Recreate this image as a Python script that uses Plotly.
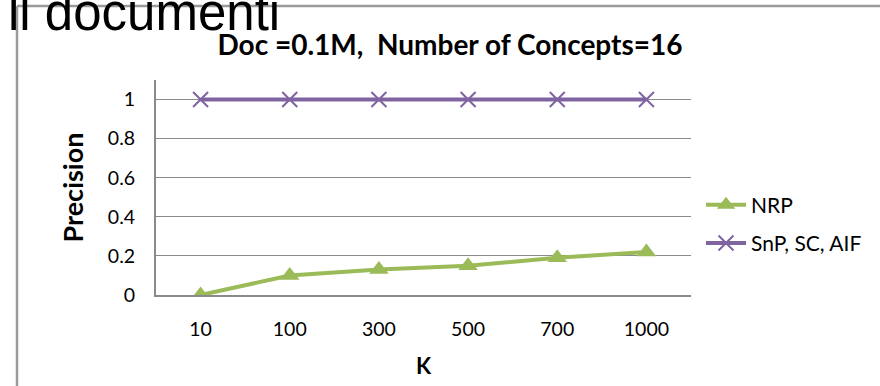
import plotly.graph_objects as go

k_labels = ["10", "100", "300", "500", "700", "1000"]
nrp = [0.0, 0.10, 0.13, 0.15, 0.19, 0.22]
snp_sc_aif = [1, 1, 1, 1, 1, 1]
y_ticks = [0, 0.2, 0.4, 0.6, 0.8, 1]
y_tick_text = ["0", "0.2", "0.4", "0.6", "0.8", "1"]

FONT = "Lato"
W, H = 880, 386
L, R, T, B = 156, 189, 80, 91
PW, PH = W - L - R, H - T - B


def px(x):
    return (x - L) / PW


def py(y):
    return (H - B - y) / PH


fig = go.Figure()
fig.add_trace(go.Scatter(
    x=k_labels, y=nrp, name="NRP", mode="lines+markers",
    line=dict(color="#9BBB59", width=4),
    marker=dict(symbol="triangle-up", size=17, color="#9BBB59"),
    legendgroup="a",
))
fig.add_trace(go.Scatter(
    x=k_labels, y=snp_sc_aif, name="SnP, SC, AIF", mode="lines+markers",
    line=dict(color="#8064A2", width=4),
    marker=dict(symbol="x-thin", size=15, color="#8064A2",
                line=dict(color="#8064A2", width=2)),
    legendgroup="b",
))

grid = "#8a8a8a"
fig.update_layout(
    width=W, height=H,
    margin=dict(l=L, r=R, t=T, b=B, autoexpand=False),
    paper_bgcolor="white", plot_bgcolor="white",
    font=dict(family=FONT, color="#000000", size=19),
    title=dict(
        text="<b>Doc =0.1M,  Number of Concepts=16</b>",
        font=dict(family=FONT, size=28, color="#000"),
        x=450 / W, xanchor="center", xref="container",
        y=1 - 45 / H, yanchor="middle", yref="container",
    ),
    xaxis=dict(
        type="category", range=[-0.5, 5.5], automargin=False,
        showgrid=False, showline=True, linecolor=grid, linewidth=2,
        ticks="outside", ticklen=16, tickcolor="rgba(0,0,0,0)",
        tickfont=dict(size=19.5, family=FONT),
        title=dict(text="<b>K</b>", font=dict(size=22, family=FONT), standoff=19),
    ),
    yaxis=dict(
        range=[0, 1.1], tickvals=y_ticks, ticktext=y_tick_text, automargin=False,
        showgrid=True, gridcolor=grid, gridwidth=1.3,
        showline=True, linecolor=grid, linewidth=2,
        zeroline=False,
        ticks="outside", ticklen=15, tickcolor="rgba(0,0,0,0)",
        tickfont=dict(size=19.5, family=FONT),
        title=dict(text="<b>Precision</b>", font=dict(size=27, family=FONT), standoff=16),
    ),
    legend=dict(
        x=px(701), xanchor="left", y=py(224), yanchor="middle",
        font=dict(size=21, family=FONT),
        tracegroupgap=8, traceorder="grouped",
        bgcolor="rgba(0,0,0,0)", itemwidth=40,
    ),
    showlegend=True,
)

# slide background elements: border lines and clipped heading text
border = "#9a9a9a"
fig.add_shape(type="line", xref="paper", yref="paper",
              x0=px(17), x1=px(880), y0=py(6), y1=py(6),
              line=dict(color=border, width=2.5), layer="above")
fig.add_shape(type="line", xref="paper", yref="paper",
              x0=px(17), x1=px(17), y0=py(6), y1=py(386),
              line=dict(color=border, width=2.5), layer="above")
fig.add_annotation(
    text="ll documenti", xref="paper", yref="paper",
    x=px(282), xanchor="right", y=py(12), yanchor="middle",
    showarrow=False, font=dict(family="Liberation Sans", size=51, color="#000"),
)

fig.write_html("out.html", config={"displayModeBar": False},
               post_script="document.body.style.margin='0';")
